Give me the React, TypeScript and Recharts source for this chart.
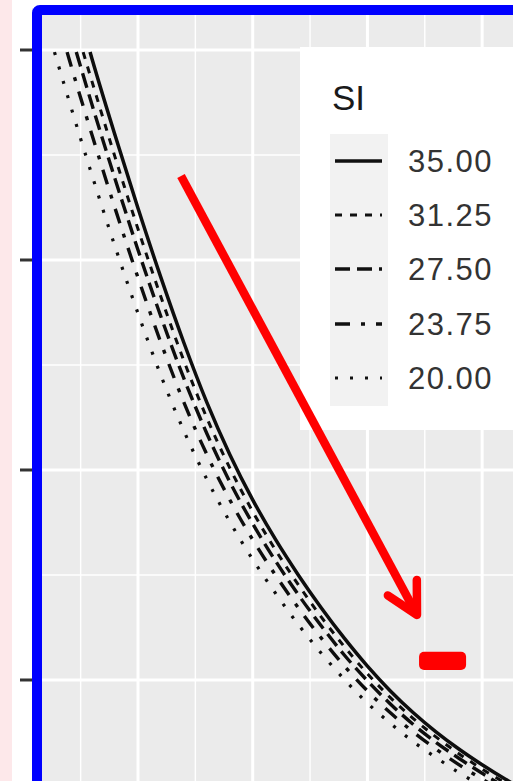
import React from 'react';
import {
  LineChart,
  Line,
  XAxis,
  YAxis,
  CartesianGrid,
  Legend,
  ReferenceLine,
  ReferenceArea,
} from 'recharts';

// axis windows (the picture is a crop of a bigger ggplot panel)
const X_DOMAIN: [number, number] = [0.76, 42.69];
const Y_DOMAIN: [number, number] = [259.5, 2100];
const Y_MAJOR = [500, 1000, 1500, 2000];
const Y_MINOR = [750, 1250, 1750];
const X_MAJOR = [10, 20, 30, 40];
const X_MINOR = [5, 15, 25, 35];

const SI_LABELS = ['35.00', '31.25', '27.50', '23.75', '20.00'];

// [x, y] pairs
const SI_35 = [
  [5.82, 1995], [6, 1978], [8, 1797], [10, 1623], [12, 1458], [14, 1303], [16, 1161],
  [18, 1037], [20, 929], [22, 834], [24, 749], [26, 671], [28, 599], [30, 533],
  [32, 474], [34, 422], [36, 376], [38, 335], [40, 298], [42, 264], [44, 233],
];
const SI_3125 = [
  [5.22, 1995], [6, 1924], [8, 1745], [10, 1574], [12, 1412], [14, 1260], [16, 1124],
  [18, 1005], [20, 901], [22, 809], [24, 726], [26, 649], [28, 579], [30, 515],
  [32, 458], [34, 408], [36, 364], [38, 324], [40, 288], [42, 255], [44, 225],
];
const SI_2750 = [
  [4.62, 1995], [6, 1869], [8, 1693], [10, 1524], [12, 1365], [14, 1218], [16, 1087],
  [18, 972], [20, 872], [22, 783], [24, 702], [26, 628], [28, 559], [30, 498],
  [32, 443], [34, 394], [36, 351], [38, 313], [40, 278], [42, 245], [44, 216],
];
const SI_2375 = [
  [3.82, 1995], [4, 1978], [6, 1797], [8, 1623], [10, 1458], [12, 1303], [14, 1161],
  [16, 1037], [18, 929], [20, 834], [22, 749], [24, 671], [26, 599], [28, 533],
  [30, 474], [32, 422], [34, 376], [36, 335], [38, 298], [40, 264], [42, 233], [44, 205],
];
const SI_2000 = [
  [2.72, 1995], [4, 1878], [6, 1701], [8, 1532], [10, 1373], [12, 1225], [14, 1093],
  [16, 978], [18, 877], [20, 787], [22, 706], [24, 631], [26, 563], [28, 501],
  [30, 445], [32, 397], [34, 353], [36, 315], [38, 279], [40, 247], [42, 218], [44, 192],
];
const SI_VALUES = [SI_35, SI_3125, SI_2750, SI_2375, SI_2000];

// annotation in data units
const ARROW_FROM = { x: 13.75, y: 1700 };
const ARROW_TO = { x: 34.32, y: 655 };
const MARK_X = [34.5, 38.6];
const MARK_Y = [524, 567];

const DASHES = ['', '7 8', '15 7', '15 11 4 11', '3 12'];
const WIDTHS = [3.5, 3, 3.4, 3.4, 3.2];
const FONT = '"Liberation Sans", Arial, Helvetica, sans-serif';

function SiLegend() {
  return (
    <div
      style={{
        position: 'relative',
        width: 240,
        height: 383,
        background: '#ffffff',
        fontFamily: FONT,
      }}
    >
      <div
        style={{
          position: 'absolute',
          left: 32,
          top: 33,
          fontSize: 35,
          lineHeight: '35px',
          color: '#1a1a1a',
        }}
      >
        SI
      </div>
      {SI_LABELS.map((label, i) => (
        <React.Fragment key={label}>
          <svg
            style={{ position: 'absolute', left: 30, top: 87 + i * 54.2 }}
            width={58}
            height={55}
          >
            <rect x={0} y={0} width={58} height={55} fill="#f2f2f2" />
            <line
              x1={5}
              x2={52}
              y1={27}
              y2={27}
              stroke="#111"
              strokeWidth={WIDTHS[i]}
              strokeDasharray={DASHES[i] || undefined}
            />
          </svg>
          <div
            style={{
              position: 'absolute',
              left: 108,
              top: 99 + i * 54.2,
              fontSize: 31,
              lineHeight: '31px',
              letterSpacing: 1.5,
              color: '#333',
            }}
          >
            {label}
          </div>
        </React.Fragment>
      ))}
    </div>
  );
}

function ArrowShape(p: any) {
  const { x1, y1, x2, y2 } = p;
  const back = Math.atan2(y1 - y2, x1 - x2);
  const len = 35;
  const spread = (28 * Math.PI) / 180;
  const ax = x2 + len * Math.cos(back - spread);
  const ay = y2 + len * Math.sin(back - spread);
  const bx = x2 + len * Math.cos(back + spread);
  const by = y2 + len * Math.sin(back + spread);
  return (
    <g>
      <line x1={x1} y1={y1} x2={x2} y2={y2} stroke="#ff0000" strokeWidth={8.5} />
      <polyline
        points={`${ax},${ay} ${x2},${y2} ${bx},${by}`}
        fill="none"
        stroke="#ff0000"
        strokeWidth={8.5}
        strokeLinecap="round"
        strokeLinejoin="round"
      />
    </g>
  );
}

function MarkShape(p: any) {
  return <rect x={p.x} y={p.y} width={p.width} height={p.height} rx={5} fill="#ff0000" />;
}

// tick labels sit outside the crop, only the tick marks show
const NoLabel = () => <g />;

export default function App() {
  const series = SI_VALUES.map((pts) => pts.map(([x, y]) => ({ x, y })));

  return (
    <div
      style={{
        position: 'fixed',
        left: 0,
        top: 0,
        width: 513,
        height: 781,
        overflow: 'hidden',
        background: '#ffffff',
      }}
    >
      <div style={{ position: 'absolute', left: 0, top: 0, width: 12, height: 781, background: '#fde8ea' }} />

      <div style={{ position: 'absolute', left: 0, top: 0 }}>
        <LineChart width={513} height={781} margin={{ top: 8, right: 0, bottom: 0, left: 0 }}>
          <CartesianGrid
            stroke="#ffffff"
            strokeWidth={1.4}
            fill="#ebebeb"
            horizontalValues={Y_MINOR}
            verticalValues={X_MINOR}
          />
          <CartesianGrid
            stroke="#ffffff"
            strokeWidth={3}
            horizontalValues={Y_MAJOR}
            verticalValues={X_MAJOR}
          />
          <XAxis type="number" dataKey="x" domain={X_DOMAIN} allowDataOverflow hide />
          <YAxis
            type="number"
            domain={Y_DOMAIN}
            ticks={Y_MAJOR}
            allowDataOverflow
            width={32}
            tick={NoLabel}
            axisLine={false}
            tickSize={12}
            tickLine={{ stroke: '#333', strokeWidth: 3 }}
          />
          {series.map((data, i) => (
            <Line
              key={SI_LABELS[i]}
              data={data}
              dataKey="y"
              name={SI_LABELS[i]}
              type="monotone"
              stroke="#0d0d0d"
              strokeWidth={WIDTHS[i]}
              strokeDasharray={DASHES[i] || undefined}
              dot={false}
              activeDot={false}
              isAnimationActive={false}
            />
          ))}
          <Legend
            layout="vertical"
            align="center"
            verticalAlign="middle"
            content={() => <SiLegend />}
            wrapperStyle={{ left: 300, top: 47, width: 240, height: 383 }}
          />
        </LineChart>
      </div>

      <div style={{ position: 'absolute', left: 0, top: 0, pointerEvents: 'none' }}>
        <LineChart
          width={513}
          height={781}
          margin={{ top: 8, right: 0, bottom: 0, left: 32 }}
          data={[ARROW_FROM, ARROW_TO]}
        >
          <XAxis type="number" dataKey="x" domain={X_DOMAIN} allowDataOverflow hide />
          <YAxis type="number" domain={Y_DOMAIN} allowDataOverflow hide />
          <ReferenceLine segment={[ARROW_FROM, ARROW_TO]} shape={ArrowShape} />
          <ReferenceArea
            x1={MARK_X[0]}
            x2={MARK_X[1]}
            y1={MARK_Y[0]}
            y2={MARK_Y[1]}
            shape={MarkShape}
          />
        </LineChart>
      </div>

      <div
        style={{
          position: 'absolute',
          left: 32,
          top: 5,
          width: 600,
          height: 900,
          border: '10px solid #0000ff',
          borderRadius: 8,
          boxSizing: 'border-box',
          pointerEvents: 'none',
        }}
      />
    </div>
  );
}
